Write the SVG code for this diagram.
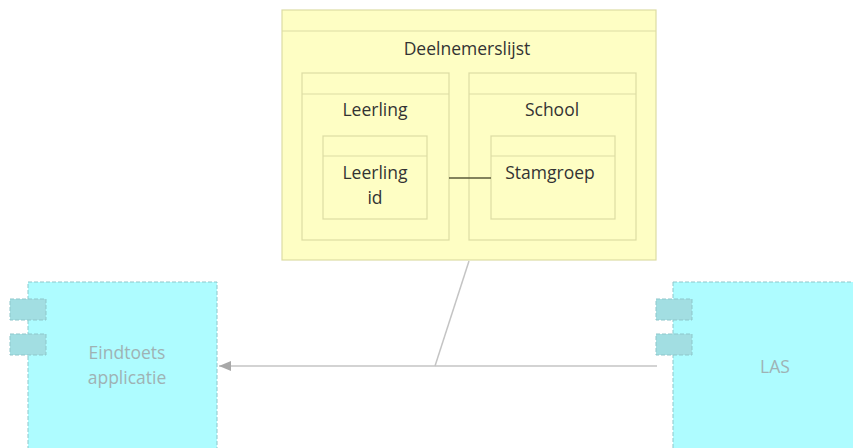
<svg xmlns="http://www.w3.org/2000/svg" width="853" height="448" viewBox="0 0 853 448">
<defs>
<style>
.y{fill:#fefec4;stroke:#dcdca4;stroke-width:1.2}
.yl{stroke:#dcdca4;stroke-width:1.2;fill:none}
.c{fill:#aefcff;stroke:#8ec7cb;stroke-width:1;stroke-dasharray:4,2}
.p{fill:#a2dee2;stroke:#8ec7cb;stroke-width:1;stroke-dasharray:4,2}
.t{font-family:"Open Sans","Noto Sans",sans-serif;font-size:17.5px;fill:#333;text-anchor:middle}
.g{font-family:"Open Sans","Noto Sans",sans-serif;font-size:17.5px;fill:#9fb2b4;text-anchor:middle}
.e{stroke:#c4c4c4;stroke-width:1.5;fill:none}
</style>
<marker id="ah" viewBox="0 0 12 10" refX="12" refY="5" markerWidth="12" markerHeight="10" markerUnits="userSpaceOnUse" orient="auto">
<path d="M0,0 L12,5 L0,10 Z" fill="#a8a8a8"/>
</marker>
</defs>
<g id="deelnemerslijst">
<rect class="y" x="282" y="10" width="374" height="250"/>
<line class="yl" x1="282" y1="31" x2="656" y2="31"/>
<text class="t" x="467" y="55">Deelnemerslijst</text>
</g>
<g id="leerling">
<rect class="y" x="302" y="73" width="147" height="167"/>
<line class="yl" x1="302" y1="94" x2="449" y2="94"/>
<text class="t" x="375" y="116">Leerling</text>
</g>
<g id="school">
<rect class="y" x="469" y="73" width="167" height="167"/>
<line class="yl" x1="469" y1="94" x2="636" y2="94"/>
<text class="t" x="552" y="116">School</text>
</g>
<g id="leerling-id">
<rect class="y" x="323" y="136" width="104" height="83"/>
<line class="yl" x1="323" y1="156" x2="427" y2="156"/>
<text class="t" x="375" y="179">Leerling</text>
<text class="t" x="375" y="204">id</text>
</g>
<g id="stamgroep">
<rect class="y" x="491" y="136" width="124" height="83"/>
<line class="yl" x1="491" y1="156" x2="615" y2="156"/>
<text class="t" x="550" y="179">Stamgroep</text>
</g>
<g id="eindtoets">
<rect class="c" x="28" y="282" width="189" height="180"/>
<rect class="p" x="10" y="299" width="36" height="21"/>
<rect class="p" x="10" y="334" width="36" height="21"/>
<text class="g" x="127" y="359">Eindtoets</text>
<text class="g" x="127" y="384">applicatie</text>
</g>
<g id="las">
<rect class="c" x="673" y="282" width="200" height="180"/>
<rect class="p" x="656" y="299" width="36" height="21"/>
<rect class="p" x="656" y="334" width="36" height="21"/>
<text class="g" x="775" y="373">LAS</text>
</g>
<g id="connectors">
<line x1="449" y1="178" x2="491" y2="178" stroke="#5a5a3a" stroke-width="1.5"/>
<line class="e" x1="657" y1="366" x2="219" y2="366" marker-end="url(#ah)"/>
<line class="e" x1="469" y1="261" x2="435" y2="366"/>
</g>
</svg>
